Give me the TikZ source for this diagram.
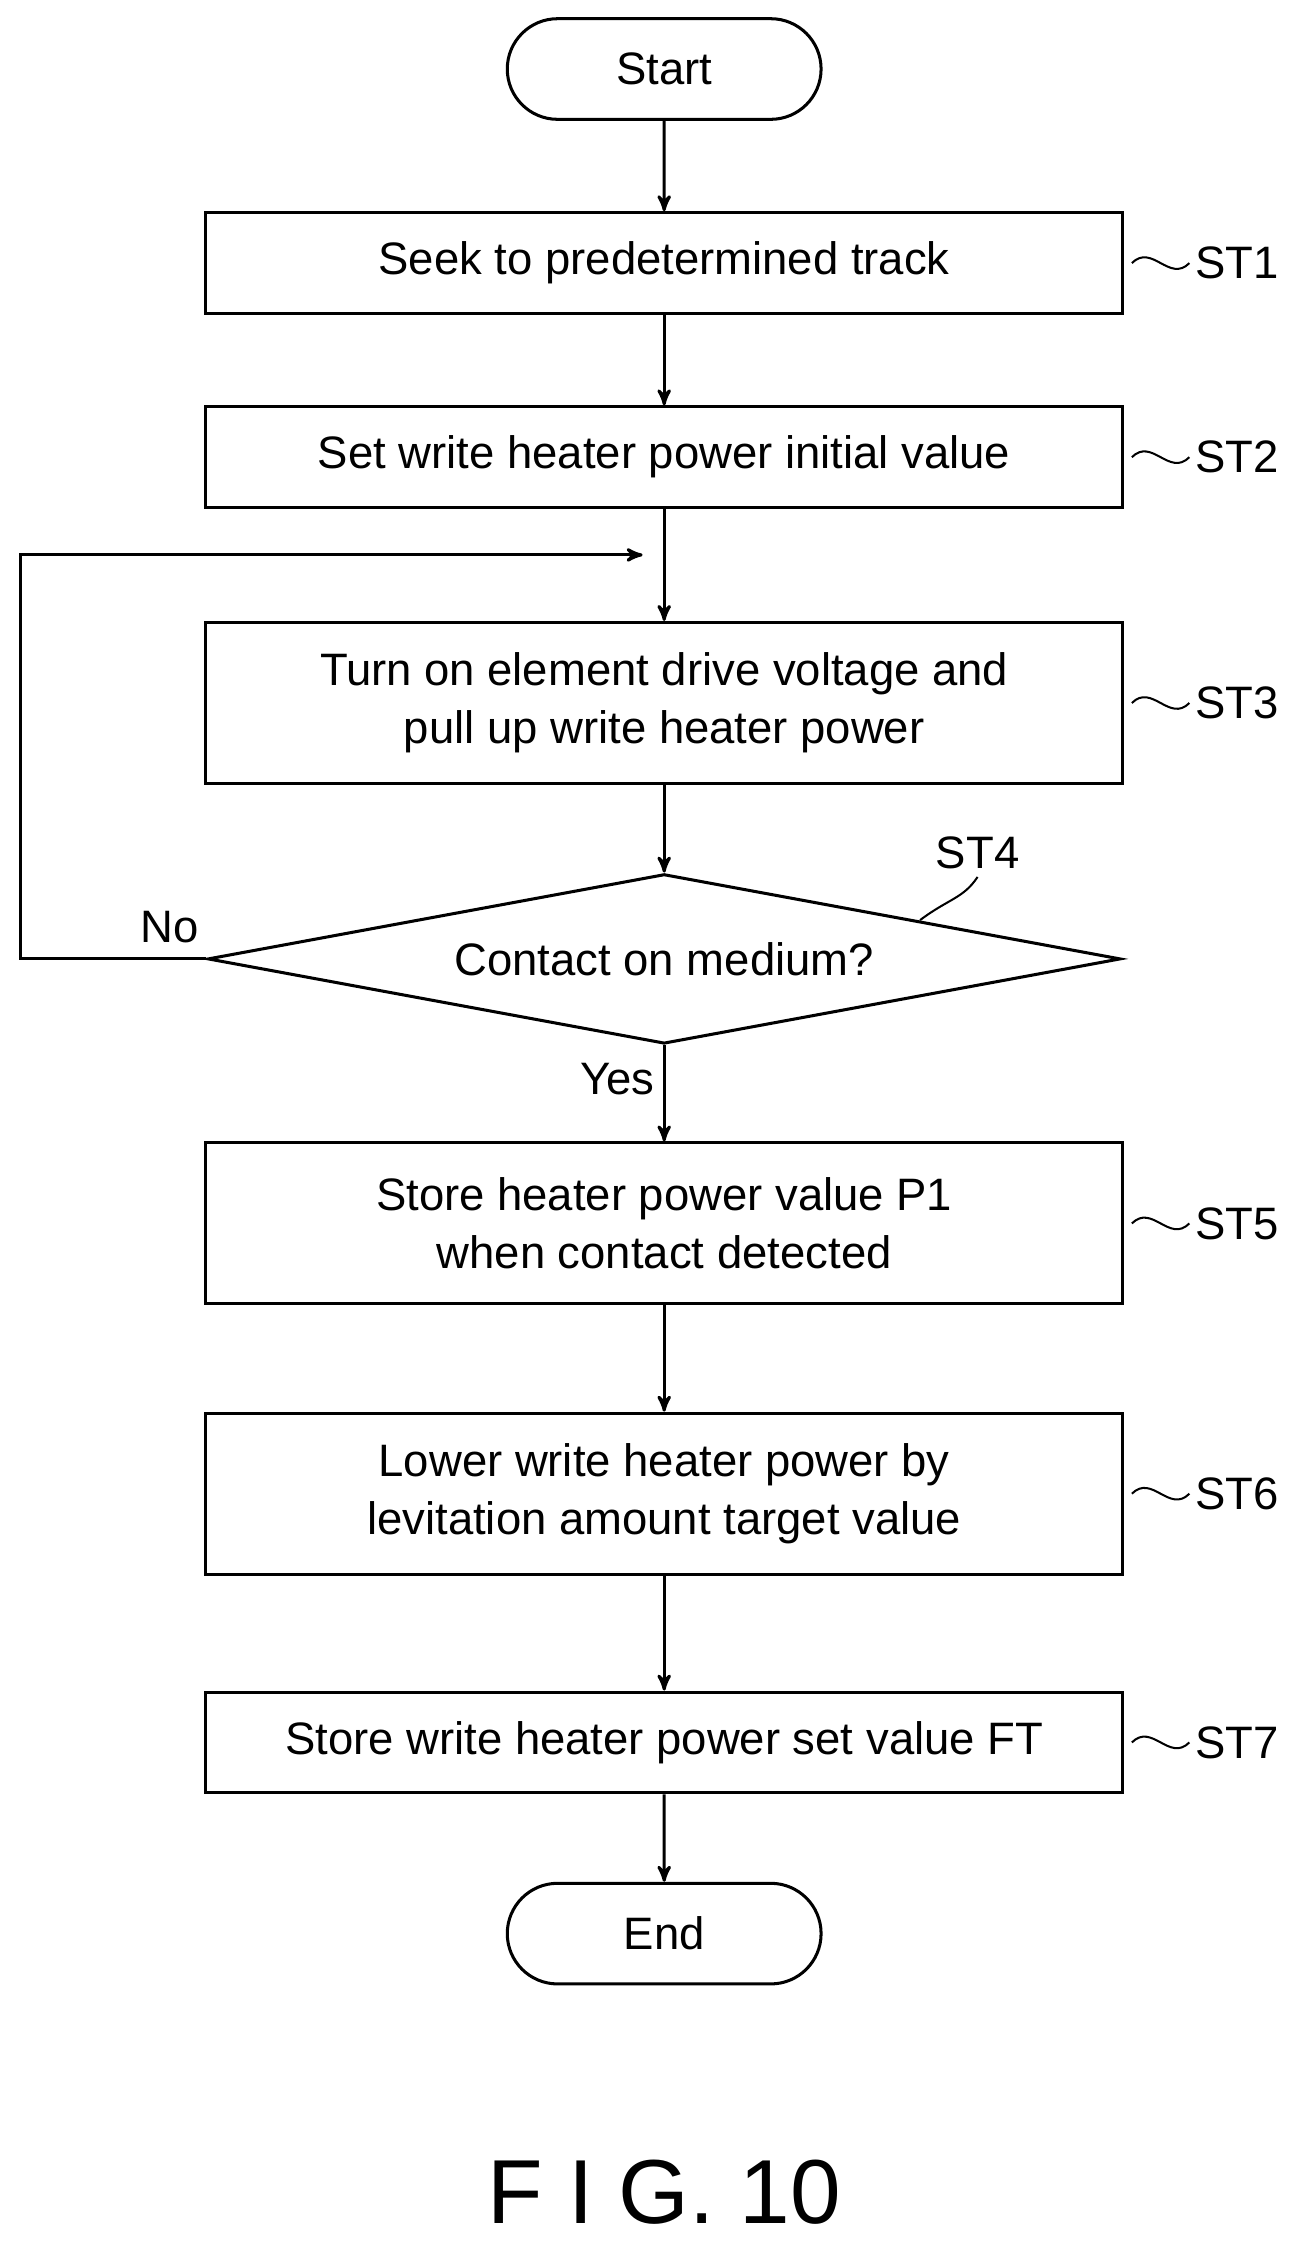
\documentclass[tikz,border=0pt]{standalone}
\usepackage{fontspec}
\setmainfont{Liberation Sans}
\usetikzlibrary{shapes,arrows}
\tikzstyle{proc}=[rectangle,draw,line width=1.2pt,minimum width=638*0.02cm,
                  align=center,inner sep=0pt]
\tikzstyle{term}=[rounded rectangle,draw,line width=1.2pt,minimum width=230*0.02cm,
                  minimum height=70*0.02cm]
\tikzstyle{line}=[line width=1.2pt]
\tikzstyle{tag}=[anchor=west,inner sep=2pt]

\begin{document}
\begin{tikzpicture}[x=0.02cm,y=-0.02cm,>=stealth',font=\fontsize{18}{23}\selectfont]
  \useasboundingbox (0,0) rectangle (900,1563);

	\node[term] (start) at (462,48) {Start};
	\node[proc,minimum height=70*0.02cm] (st1) at (462,183) {Seek to predetermined track};
	\node[proc,minimum height=70*0.02cm] (st2) at (462,318) {Set write heater power initial value};
	\node[proc,minimum height=112*0.02cm] (st3) at (462,489) {Turn on element drive voltage and\\pull up write heater power};
	\node[diamond,draw,line width=1.2pt,aspect=5.4,minimum width=635*0.02cm,
	      minimum height=118*0.02cm,inner sep=0pt] (st4) at (462,667) {Contact on medium?};
	\node[proc,minimum height=112*0.02cm] (st5) at (462,851) {Store heater power value P1\\when contact detected};
	\node[proc,minimum height=112*0.02cm] (st6) at (462,1039) {Lower write heater power by\\levitation amount target value};
	\node[proc,minimum height=70*0.02cm] (st7) at (462,1212) {Store write heater power set value FT};
	\node[term] (end) at (462,1345) {End};
	\node (fig) at (462,1525) {\fontsize{36}{40}\selectfont F I G. 10};

	\coordinate (loop) at (462,386);

  \draw[line,->] (start) -- (st1);
  \draw[line,->] (st1) -- (st2);
  \draw[line,->] (st2) -- (st3);
  \draw[line,->] (st3) -- (st4);
  \draw[line,->] (st4) -- node[left,pos=0.35] {Yes} (st5);
  \draw[line,->] (st5) -- (st6);
  \draw[line,->] (st6) -- (st7);
  \draw[line,->] (st7) -- (end);
  \draw[line,->] (st4.west) -- (14,667) -- (14,386) -- ([xshift=-0.3cm]loop);
  \node at (118,645) {No};

  % step tags
  \foreach \n/\t in {st1/ST1,st2/ST2,st3/ST3,st5/ST5,st6/ST6,st7/ST7}{
    \draw[line width=0.8pt] ([xshift=3pt]\n.east) .. controls +(14,-14) and +(-14,14) .. ++(40,0)
      node[tag] {\t};
  }
  \draw[line width=0.8pt] (640,640) .. controls (660,625) and (670,625) .. (680,610);
  \node at (680,593) {ST4};

\end{tikzpicture}
\end{document}
